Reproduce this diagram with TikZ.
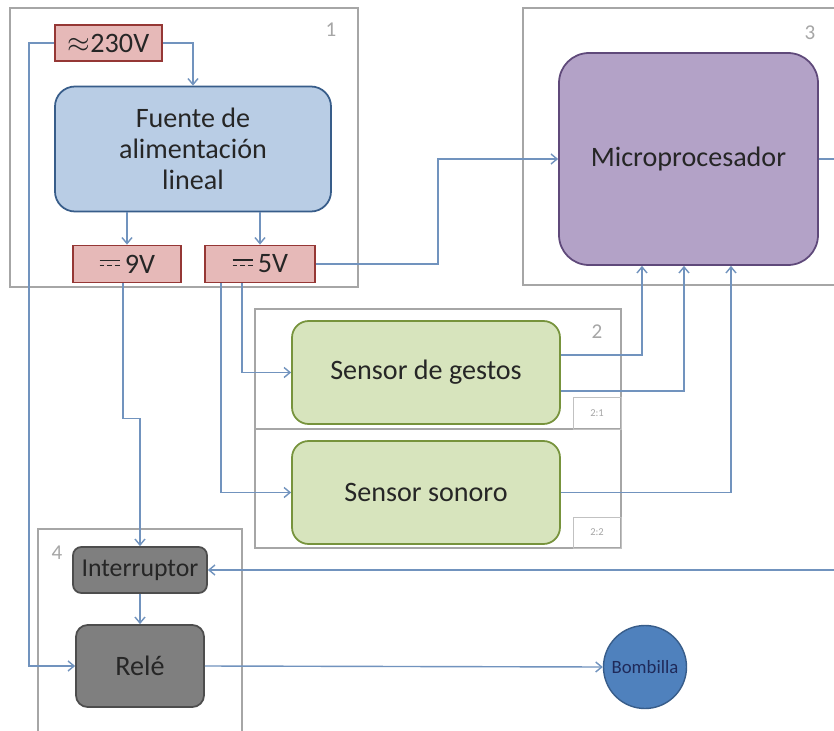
\documentclass[tikz,border=0pt]{standalone}
\usepackage{fontspec}
\setmainfont{Carlito}
\usetikzlibrary{arrows.meta}
\usetikzlibrary{positioning}

\definecolor{linec}{HTML}{7193BE}
\definecolor{framec}{HTML}{A6A6A6}
\definecolor{voltf}{HTML}{E6B9B8}
\definecolor{voltd}{HTML}{953735}
\definecolor{fuentef}{HTML}{B9CDE5}
\definecolor{fuented}{HTML}{385D8A}
\definecolor{microf}{HTML}{B3A2C7}
\definecolor{microd}{HTML}{5F497A}
\definecolor{sensf}{HTML}{D7E4BD}
\definecolor{sensd}{HTML}{77933C}
\definecolor{grisf}{HTML}{7F7F7F}
\definecolor{grisd}{HTML}{4D4D4D}
\definecolor{bombf}{HTML}{4F81BD}
\definecolor{bombd}{HTML}{385D8A}
\definecolor{bombt}{HTML}{1F2A5A}

\newcommand{\pxu}{0.03cm}
% simbolo de corriente continua
\newcommand{\dcsym}{\tikz[baseline=0pt,line width=1pt]{%
  \draw (0pt,11pt) -- (17pt,11pt);
  \draw[dash pattern=on 4pt off 2.5pt] (0pt,6.5pt) -- (17pt,6.5pt);}}

\begin{document}
\begin{tikzpicture}[
  x=\pxu, y=-\pxu,
  > = {Straight Barb[length=1.8mm,width=3mm]},
  sz/.style 2 args = {minimum width=#1*\pxu, minimum height=#2*\pxu},
  conn/.style = {->, draw=linec, line width=1.2pt},
  frame/.style = {draw=framec, line width=1.5pt},
  tag/.style = {text=framec, font=\fontsize{18}{18}\selectfont},
  subtag/.style = {draw=framec!70, line width=0.8pt, text=framec, inner sep=0pt, font=\fontsize{9}{9}\selectfont},
  volt/.style = {draw=voltd, fill=voltf, line width=1.5pt, inner sep=0pt, text=black!85, font=\fontsize{24}{24}\selectfont},
  block/.style = {line width=1.5pt, align=center, inner sep=0pt, text=black!85, font=\fontsize{24}{26.5}\selectfont}
  ]
	\clip (0,0) rectangle (834,731);
	\fill[white] (0,0) rectangle (834,731);

	% grupos
	\draw[frame] (10,8) rectangle (358,287);
	\draw[frame] (255,309) rectangle (621,548);
	\draw[frame] (255,429) -- (621,429);
	\draw[frame] (523,8) rectangle (870,285);
	\draw[frame] (38,529) rectangle (242,760);

	\node[tag] (t1) at (331,30) {1};
	\node[tag] (t2) at (597,332) {2};
	\node[tag] (t3) at (810,33) {3};
	\node[tag] (t4) at (57,553) {4};
	\node[subtag, sz={48}{32}] (t21) at (597,413) {2:1};
	\node[subtag, sz={48}{31}] (t22) at (597,532.5) {2:2};

	% bloques
	\node[volt, sz={107}{36}] (v230) at (108.5,43) {$\approx$230V};
	\node[block, draw=fuented, fill=fuentef, rounded corners=0.6cm, sz={276}{125}] (fuente) at (193,149) {Fuente de\\alimentación\\lineal};
	\node[volt, sz={108}{37}] (v9) at (127,264) {\dcsym\,9V};
	\node[volt, sz={110}{37}] (v5) at (260,264) {\dcsym\,5V};

	\node[block, draw=microd, fill=microf, rounded corners=0.9cm, sz={259}{212}] (micro) at (688.5,159) {Microprocesador};

	\node[block, draw=sensd, fill=sensf, rounded corners=0.5cm, sz={268}{103}] (gestos) at (426,372.5) {Sensor de gestos};
	\node[block, draw=sensd, fill=sensf, rounded corners=0.5cm, sz={268}{103}] (sonoro) at (426,492.5) {Sensor sonoro};

	\node[block, draw=grisd, fill=grisf, rounded corners=0.25cm, sz={134}{46}, font=\fontsize{22}{22}\selectfont] (interr) at (140,570) {Interruptor};
	\node[block, draw=grisd, fill=grisf, rounded corners=0.35cm, sz={128}{82}] (rele) at (140,666) {Relé};
	\node[circle, draw=bombd, fill=bombf, line width=1.2pt, inner sep=0pt, minimum size=83*\pxu, text=bombt, font=\fontsize{16}{16}\selectfont] (bomb) at (645,667) {Bombilla};

	% conexiones
	\draw[conn] (v230.east) -| (fuente.north);
	\draw[conn] (v230.west) -- ++(-25,0) |- (rele.west);
	\draw[conn] (fuente.south -| v9.north) -- (v9.north);
	\draw[conn] (fuente.south -| v5.north) -- (v5.north);
	\draw[conn] (v5.east) -- ++(122,0) |- (micro.west);
	\draw[conn] ([xshift=-4*\pxu]v9.south) -- ++(0,135) -| (interr.north);
	\draw[conn] ([xshift=-18*\pxu]v5.south) |- (gestos.west);
	\draw[conn] ([xshift=-39*\pxu]v5.south) |- (sonoro.west);
	\draw[conn] ([yshift=17.5*\pxu]gestos.east) -| ([xshift=-46.5*\pxu]micro.south);
	\draw[conn] ([yshift=-18.5*\pxu]gestos.east) -| ([xshift=-4.5*\pxu]micro.south);
	\draw[conn] (sonoro.east) -| ([xshift=42.5*\pxu]micro.south);
	\draw[conn] (micro.east) -- ++(40,0) |- (interr.east);
	\draw[conn] (interr.south) -- (rele.north);
	\draw[conn] (rele.east) -- (bomb.west);

\end{tikzpicture}
\end{document}
